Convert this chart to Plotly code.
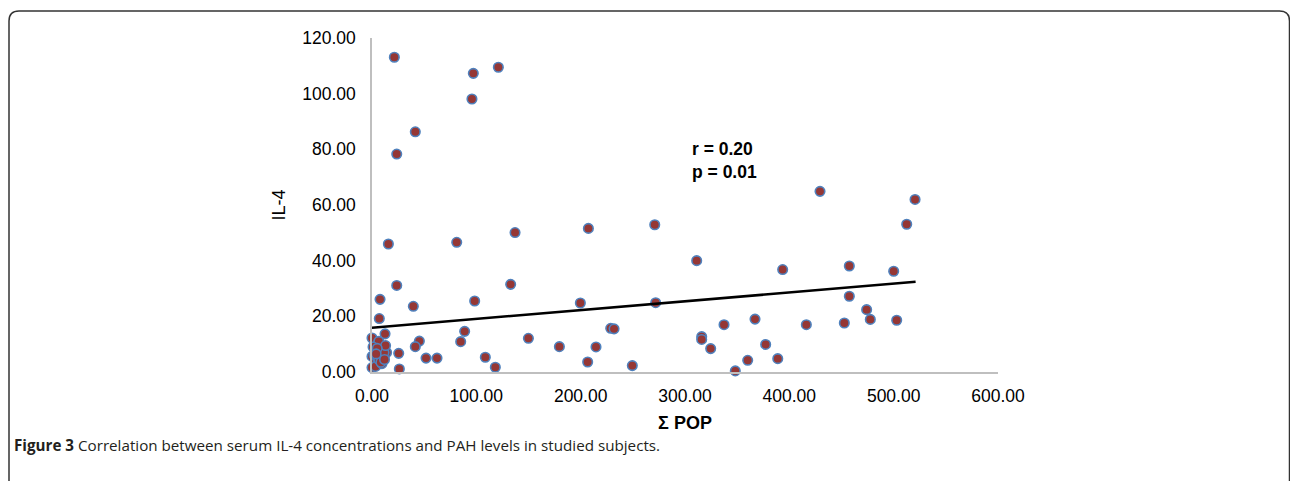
import plotly.graph_objects as go

# Σ POP (x) and IL-4 (y) values
pop_x = [21.4, 97.1, 121.1, 95.8, 41.5, 23.7,
         15.7, 81.2, 137.1, 207.4, 271.0, 311.2,
         429.4, 520.5, 512.5, 393.6, 457.5, 500.0,
         23.7, 132.9, 7.7, 39.6, 98.4, 199.7, 271.9,
         457.5, 474.1, 477.6, 452.7, 416.3, 502.9, 367.1, 337.4,
         316.0, 316.0, 324.6, 377.3, 360.1, 388.9, 348.2,
         7.0, 12.5, 0.0, 88.8, 85.0, 45.4, 41.5, 149.9, 179.6, 214.7, 228.8, 232.0,
         25.6, 51.8, 62.3, 108.6, 118.2, 206.7, 249.5, 26.2, 0.0, 0.0,
         2.0, 3.0, 4.0, 5.0, 5.5, 6.0, 7.0, 8.0, 8.5, 9.0, 10.0, 10.5, 11.0, 12.0, 3.5, 6.5, 9.5, 14.0, 1.0, 4.5,
         6.0, 7.5, 8.0, 9.0, 10.0, 11.5, 13.0, 5.0, 6.5, 8.5, 12.0, 4.0]
il4_y = [113.1, 107.3, 109.5, 98.1, 86.3, 78.3,
         46.0, 46.6, 50.1, 51.6, 52.9, 40.0,
         64.9, 62.0, 53.1, 36.8, 38.1, 36.2,
         31.1, 31.5, 26.1, 23.6, 25.5, 24.8, 24.9,
         27.2, 22.4, 18.9, 17.6, 17.0, 18.6, 19.0, 17.0,
         12.7, 11.7, 8.4, 9.9, 4.2, 4.8, 0.4,
         19.2, 13.7, 12.2, 14.6, 10.9, 11.1, 9.1, 12.1, 9.1, 9.0, 15.7, 15.5,
         6.7, 5.0, 5.0, 5.3, 1.7, 3.6, 2.3, 1.1, 1.6, 5.6,
         6.0, 9.0, 4.0, 7.0, 10.0, 3.0, 8.0, 5.0, 9.0, 6.0, 7.0, 4.0, 8.0, 6.0, 2.0, 11.0, 3.0, 7.0, 9.0, 5.5,
         5.0, 6.5, 7.5, 8.0, 5.5, 7.0, 9.5, 8.5, 4.5, 3.5, 4.5, 6.5]

# linear trend line end points
trend_x = [0.0, 521.0]
trend_y = [15.9, 32.4]

x_ticks = [0, 100, 200, 300, 400, 500, 600]
y_ticks = [0, 20, 40, 60, 80, 100, 120]

W, H = 1290, 481
L, R, T, B = 372, 292, 38, 109
pw, ph = W - L - R, H - T - B

def px_x(p):
    return (p - L) / pw

def px_y(p):
    return (H - B - p) / ph

fig = go.Figure()
fig.add_trace(go.Scatter(
    x=pop_x, y=il4_y, mode="markers", cliponaxis=False,
    marker=dict(size=9.5, color="#953735", line=dict(color="#4F81BD", width=1.6)),
    showlegend=False, hoverinfo="skip"))
fig.add_trace(go.Scatter(
    x=trend_x, y=trend_y, mode="lines", cliponaxis=False,
    line=dict(color="black", width=2.5), showlegend=False, hoverinfo="skip"))

FONT = "Liberation Sans, Arial, sans-serif"
tick_font = dict(family=FONT, size=17.5, color="#000")

fig.update_layout(
    width=W, height=H,
    margin=dict(l=L, r=R, t=T, b=B, autoexpand=False),
    paper_bgcolor="white", plot_bgcolor="white",
    xaxis=dict(range=[0, 600], tickvals=x_ticks, tickformat=".2f",
               showgrid=False, zeroline=False, showline=True, linecolor="#BFBFBF", linewidth=1.5,
               ticks="", tickfont=tick_font, ticklabelstandoff=7,
               title=dict(text="<b>Σ POP</b>", font=dict(family=FONT, size=18, color="#000"), standoff=12)),
    yaxis=dict(range=[0, 120], tickvals=y_ticks, tickformat=".2f",
               showgrid=False, zeroline=False, showline=True, linecolor="#BFBFBF", linewidth=1.5,
               ticks="", tickfont=tick_font, ticklabelstandoff=11,
               title=dict(text="IL-4", font=dict(family=FONT, size=18, color="#000"), standoff=12)),
)

# annotation text
fig.add_annotation(xref="paper", yref="paper", x=px_x(724), y=px_y(160), xanchor="center", yanchor="middle",
                   text="<b>r = 0.20<br>p = 0.01</b>", showarrow=False, align="left",
                   font=dict(family=FONT, size=17.5, color="#000"))

# caption
fig.add_annotation(xref="paper", yref="paper", x=px_x(12), y=px_y(445), xanchor="left", yanchor="middle",
                   text="<b>Figure 3</b> Correlation between serum IL-4 concentrations and PAH levels in studied subjects.",
                   showarrow=False, font=dict(family="Open Sans, sans-serif", size=15.2, color="#231F20"))

# rounded frame
x0, x1 = px_x(9), px_x(1289.5)
y0, y1 = px_y(500), px_y(11)
rx, ry = 10 / pw, 10 / ph
path = (f"M {x0},{y0} L {x0},{y1 - ry} Q {x0},{y1} {x0 + rx},{y1} "
        f"L {x1 - rx},{y1} Q {x1},{y1} {x1},{y1 - ry} L {x1},{y0}")
fig.add_shape(type="path", xref="paper", yref="paper", path=path,
              line=dict(color="#333333", width=1.5))

fig.write_html("out.html", config={"displayModeBar": False},
               post_script="document.body.style.margin='0px';")
